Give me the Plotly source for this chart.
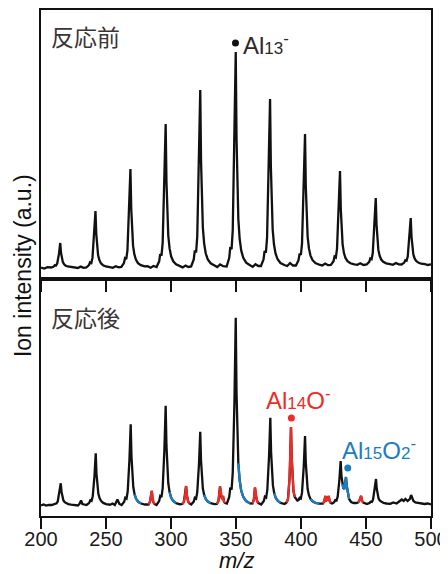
import plotly.graph_objects as go

# ---------------- data ----------------
# Before reaction (反応前): m/z and intensity (a.u.)
before_mz = [
    200, 202.5, 205,
    207.8, 209.8, 210.6, 211.6, 212.5, 213.8, 214.8, 215.4, 216.0, 216.8, 217.8, 219.0, 220.6, 222.8, 225.8,
    228.3, 230.5, 232.8,
    234.9, 236.9, 237.7, 238.7, 239.6, 240.9, 241.9, 242.5, 243.1, 243.9, 244.9, 246.1, 247.7, 249.9, 252.9,
    255.2, 257.5, 259.6,
    261.8, 263.8, 264.6, 265.6, 266.5, 267.8, 268.8, 269.4, 270.0, 270.8, 271.8, 273.0, 274.6, 276.8, 279.8,
    282.0, 284.3, 286.5,
    288.9, 290.9, 291.7, 292.7, 293.6, 294.9, 295.9, 296.5, 297.1, 297.9, 298.9, 300.1, 301.7, 303.9, 306.9,
    309.0, 311.2, 313.3,
    315.5, 317.5, 318.3, 319.3, 320.2, 321.5, 322.5, 323.1, 323.7, 324.5, 325.5, 326.7, 328.3, 330.5, 333.5,
    335.6, 337.8, 340.2,
    342.8, 344.8, 345.6, 346.6, 347.5, 348.8, 349.8, 350.4, 351.0, 351.8, 352.8, 354.0, 355.6, 357.8, 360.8,
    362.9, 365.0, 367.2,
    369.2, 371.2, 372.0, 373.0, 373.9, 375.2, 376.2, 376.8, 377.4, 378.2, 379.2, 380.4, 382.0, 384.2, 387.2,
    389.4, 391.6, 393.8,
    396.1, 398.1, 398.9, 399.9, 400.8, 402.1, 403.1, 403.7, 404.3, 405.1, 406.1, 407.3, 408.9, 411.1, 414.1,
    416.3, 418.6, 420.8,
    423.0, 425.0, 425.8, 426.8, 427.7, 429.0, 430.0, 430.6, 431.2, 432.0, 433.0, 434.2, 435.8, 438.0, 441.0,
    443.3, 445.6, 448.0,
    450.5, 452.5, 453.3, 454.3, 455.2, 456.5, 457.5, 458.1, 458.7, 459.5, 460.5, 461.7, 463.3, 465.5, 468.5,
    470.7, 473.0, 475.2,
    477.4, 479.4, 480.2, 481.2, 482.1, 483.4, 484.4, 485.0, 485.6, 486.4, 487.4, 488.6, 490.2, 492.4, 495.4,
    497.5, 500,
]
before_int = [
    11.5, 10.5, 11.8,
    11.5, 12.5, 13.7, 13.5, 15.7, 25, 36, 26.2, 20.3, 16.9, 14.7, 13.3, 12.5, 11.9, 11.7,
    11, 12.4, 11.1,
    11.5, 13.8, 16.6, 16, 21.1, 42.6, 68, 45.4, 31.8, 23.9, 18.9, 15.7, 13.8, 12.5, 11.8,
    11.2, 12.8, 11.6,
    12, 15.9, 20.8, 19.8, 28.7, 65.9, 110, 70.8, 47.3, 33.6, 24.7, 19.4, 15.9, 13.8, 12.6,
    12.8, 11.3, 13,
    12, 17.7, 24.9, 23.4, 36.3, 90.7, 155, 97.8, 63.5, 43.5, 30.6, 22.7, 17.7, 14.6, 12.9,
    11.6, 13.5, 12,
    12.5, 19.6, 28.4, 26.6, 42.5, 109.6, 189, 118.4, 76, 51.3, 35.4, 25.7, 19.6, 15.7, 13.6,
    12, 14.5, 12.8,
    12.5, 21.1, 31.8, 29.7, 49, 130.5, 227, 141.2, 89.7, 59.7, 40.4, 28.6, 21.1, 16.4, 13.8,
    12.2, 14.8, 13,
    13, 19.7, 28, 26.4, 41.4, 104.9, 180, 113.2, 73.1, 49.7, 34.7, 25.5, 19.7, 16, 14,
    13, 16, 13.5,
    13.5, 18.8, 25.3, 24, 35.9, 85.8, 145, 92.4, 60.8, 42.4, 30.6, 23.4, 18.8, 15.9, 14.3,
    13.5, 15.5, 13.8,
    14, 17.8, 22.5, 21.5, 30, 65.7, 108, 70.4, 47.8, 34.7, 26.2, 21, 17.8, 15.7, 14.6,
    14.2, 15.8, 14,
    14.5, 17.2, 20.5, 19.8, 25.8, 51.1, 81, 54.4, 38.4, 29.1, 23.2, 19.5, 17.2, 15.7, 14.9,
    14.2, 16, 14.6,
    14.5, 16.4, 18.7, 18.2, 22.4, 40.1, 61, 42.4, 31.2, 24.7, 20.6, 18, 16.4, 15.3, 14.8,
    14, 14.6,
]

# After reaction (反応後): m/z and intensity (a.u.)
after_mz = [
    200, 202, 204, 206,
    208.2, 210.2, 211.0, 212.0, 212.9, 214.2, 215.2, 215.8, 216.4, 217.2, 218.2, 219.4, 221.0, 223.2, 226.2,
    228.5, 229.8, 230.8, 231.8, 233.3,
    235.1, 237.1, 237.9, 238.9, 239.8, 241.1, 242.1, 242.7, 243.3, 244.1, 245.1, 246.3, 247.9, 250.1, 253.1,
    255.0, 256.8, 258.8, 260.3,
    262.0, 264.0, 264.8, 265.8, 266.7, 268.0, 269.0, 269.6, 270.2, 271.0, 272.0, 273.2, 274.8, 277.0, 280.0,
    282.7, 283.9, 284.7, 285.2, 285.8, 286.5, 287.5,
    288.9, 290.9, 291.7, 292.7, 293.6, 294.9, 295.9, 296.5, 297.1, 297.9, 298.9, 300.1, 301.7, 303.9, 306.9,
    308.6, 309.9, 310.9, 311.6, 312.3, 313.2, 314.2,
    315.5, 317.5, 318.3, 319.3, 320.2, 321.5, 322.5, 323.1, 323.7, 324.5, 325.5, 326.7, 328.3, 330.5, 333.5,
    335.3, 336.5, 337.7, 338.5, 339.3, 340.0, 340.8, 341.6,
    343.0, 344.8, 345.6, 346.6, 347.5, 348.8, 349.8, 350.4, 351.0, 351.8, 352.8, 354.0, 355.6, 357.8, 360.8,
    362.6, 363.7, 364.6, 365.3, 366.2, 367.2,
    369.4, 371.4, 372.2, 373.2, 374.1, 375.4, 376.4, 377.0, 377.6, 378.4, 379.4, 380.6, 382.2, 384.4, 387.4,
    388.9, 390.0, 391.2, 391.8, 392.3, 392.8, 393.4, 394.2, 395.2,
    396.2, 397.2, 398.1, 398.9, 399.9, 400.8, 402.1, 403.1, 403.7, 404.3, 405.1, 406.1, 407.3, 408.9, 411.1, 414.1,
    416.8, 418.0, 418.7, 419.5, 420.4, 421.3, 422.0, 423.0,
    424.0, 425.5, 426.3, 427.3, 428.2, 429.5, 430.5, 431.1, 431.7, 432.5, 433.3, 434.0, 434.6, 435.2, 436.0, 437.0, 438.5, 440.5, 442.5,
    443.8, 445.0, 446.2, 447.0, 447.9,
    450.7, 452.7, 453.5, 454.5, 455.4, 456.7, 457.7, 458.3, 458.9, 459.7, 460.7, 461.9, 463.5, 465.7, 468.7,
    471.0, 473.5, 475.5, 477.5, 479.0, 480.3,
    482.0, 483.7, 484.7, 485.5, 486.5, 488.0, 490.0, 492.5, 495.0, 497.5, 500,
]
after_int = [
    10.5, 11.5, 10.5, 11.2,
    11, 11.9, 13, 12.7, 14.7, 22.9, 32.7, 24, 18.8, 15.8, 13.8, 12.6, 11.9, 11.4, 11.1,
    10.5, 12.5, 15.5, 12, 11.2,
    11, 13.1, 15.7, 15.1, 19.8, 39.4, 62.7, 42, 29.6, 22.4, 17.7, 14.9, 13.1, 11.9, 11.3,
    12.5, 11, 16.5, 12,
    11, 14.2, 18.3, 17.5, 24.7, 55.4, 91.7, 59.4, 40.1, 28.8, 21.5, 17, 14.2, 12.5, 11.5,
    11.5, 14.5, 21.5, 25, 18, 13.5, 12,
    11, 15, 19.9, 18.9, 27.9, 65.6, 110.3, 70.6, 46.7, 32.8, 23.9, 18.5, 15, 12.8, 11.6,
    12, 14, 21, 30, 20, 14.5, 12.5,
    11.5, 14.4, 18.1, 17.3, 23.9, 51.5, 84.3, 55.2, 37.7, 27.5, 21, 17, 14.4, 12.8, 11.9,
    12, 15, 29.5, 20, 17, 20, 14, 13,
    12.5, 19, 28.3, 26.4, 43.3, 114.2, 198.3, 123.6, 78.7, 52.6, 35.8, 25.5, 19, 14.9, 12.6,
    12.5, 16, 28.5, 20, 15, 13,
    11.5, 15, 19.3, 18.4, 26.3, 59.2, 98.3, 63.6, 42.7, 30.6, 22.8, 18, 15, 13.1, 12,
    13.5, 17, 38, 62, 89, 60, 38, 25, 19,
    17, 15.5, 16, 18.1, 17.4, 23.6, 49.4, 80, 52.8, 36.5, 27, 20.8, 17.1, 14.7, 13.2, 12.4,
    12.5, 15, 20, 15.5, 16.5, 20, 15, 13,
    12.5, 13.7, 15.9, 15.4, 19.3, 35.7, 55, 40, 32, 28, 27, 33, 39, 30, 22, 17, 14, 13, 13,
    13.5, 15.5, 20, 15, 13.5,
    12, 13, 14.3, 14, 16.3, 25.8, 37, 27, 21, 17.5, 15.3, 13.9, 13, 12.5, 12.2,
    13.5, 12.5, 14.5, 16.5, 15, 17,
    15, 17, 21, 17.5, 15, 13.5, 13, 12.5, 12, 12.5, 11.5,
]

# m/z windows highlighted in the after-reaction spectrum
red_ranges = [(282.6, 287.6), (308.5, 314.3), (335.2, 341.7), (362.5, 367.3),
              (388.8, 395.3), (416.7, 423.1), (443.7, 448.0)]          # Al_nO-
blue_ranges = [(271.9, 277.1), (298.8, 304.0), (325.4, 330.6), (351.7, 360.9),
               (379.3, 384.5), (407.2, 414.2), (431.6, 437.1)]         # Al_nO2-

# labelled peaks: text, m/z, apex intensity
top_label_text = ["Al<span style='font-size:17px'>13</span><sup>-</sup>"]
top_label_mz = [349.6]
top_label_int = [227]
bot_label_text = ["Al<span style='font-size:17px'>14</span>O<sup>-</sup>",
                  "Al<span style='font-size:17px'>15</span>O<span style='font-size:17px'>2</span><sup>-</sup>"]
bot_label_mz = [392.6, 436.0]
bot_label_int = [89, 39]

tick_vals = [200, 250, 300, 350, 400, 450, 500]
panel_titles = ["反応前", "反応後"]

assert len(before_mz) == len(before_int)
assert len(after_mz) == len(after_int)

# ---------------- styles ----------------
BLACK = "#111111"
RED = "#ee2b24"
BLUE = "#1c7cc2"
TXT = "#3b3535"
FONT = "Liberation Sans, Arial, Noto Sans CJK JP, sans-serif"
DOT_GAP = 9
LW = 2.3
PAGE_PAD = 8  # the page body adds an 8px margin around the figure

fig = go.Figure()

fig.add_trace(go.Scatter(x=before_mz, y=before_int, mode="lines",
                         line=dict(color=BLACK, width=LW), xaxis="x", yaxis="y",
                         showlegend=False, hoverinfo="skip"))
fig.add_trace(go.Scatter(x=after_mz, y=after_int, mode="lines",
                         line=dict(color=BLACK, width=LW), xaxis="x2", yaxis="y2",
                         showlegend=False, hoverinfo="skip"))


def segments(ranges):
    xs, ys = [], []
    for lo, hi in ranges:
        for m, v in zip(after_mz, after_int):
            if lo <= m <= hi:
                xs.append(m)
                ys.append(v)
        xs.append(None)
        ys.append(None)
    return xs, ys


for rng, col in ((blue_ranges, BLUE), (red_ranges, RED)):
    sx, sy = segments(rng)
    fig.add_trace(go.Scatter(x=sx, y=sy, mode="lines", line=dict(color=col, width=LW),
                             xaxis="x2", yaxis="y2", showlegend=False, hoverinfo="skip",
                             connectgaps=False))

# label dots
fig.add_trace(go.Scatter(x=top_label_mz, y=[v + DOT_GAP for v in top_label_int], mode="markers",
                         marker=dict(color=BLACK, size=7), xaxis="x", yaxis="y",
                         showlegend=False, hoverinfo="skip"))
fig.add_trace(go.Scatter(x=bot_label_mz, y=[v + DOT_GAP for v in bot_label_int], mode="markers",
                         marker=dict(color=[RED, BLUE], size=7), xaxis="x2", yaxis="y2",
                         showlegend=False, hoverinfo="skip"))

annotations = []
annotations.append(dict(x=top_label_mz[0], y=top_label_int[0] + DOT_GAP, xref="x", yref="y",
                        text=top_label_text[0], showarrow=False, xanchor="left", yanchor="middle",
                        xshift=6, yshift=-1, font=dict(size=24, color="#2e2828", family=FONT)))
annotations.append(dict(x=bot_label_mz[0], y=bot_label_int[0] + DOT_GAP, xref="x2", yref="y2",
                        text=bot_label_text[0], showarrow=False, xanchor="left", yanchor="middle",
                        xshift=-27, yshift=19, font=dict(size=24, color=RED, family=FONT)))
annotations.append(dict(x=bot_label_mz[1], y=bot_label_int[1] + DOT_GAP, xref="x2", yref="y2",
                        text=bot_label_text[1], showarrow=False, xanchor="left", yanchor="middle",
                        xshift=-8, yshift=19, font=dict(size=24, color=BLUE, family=FONT)))
annotations.append(dict(x=0.02, y=0.896, xref="x domain", yref="y domain", text=panel_titles[0],
                        showarrow=False, xanchor="left", yanchor="middle",
                        font=dict(size=23, color=TXT, family=FONT)))
annotations.append(dict(x=0.02, y=0.833, xref="x2 domain", yref="y2 domain", text=panel_titles[1],
                        showarrow=False, xanchor="left", yanchor="middle",
                        font=dict(size=23, color=TXT, family=FONT)))
annotations.append(dict(x=-0.046, y=0.494, xref="paper", yref="paper", text="Ion intensity (a.u.)",
                        textangle=-90, showarrow=False, xanchor="center", yanchor="middle",
                        font=dict(size=23, color=BLACK, family=FONT)))
annotations.append(dict(x=0.5, y=0, xref="paper", yref="paper", text="<i>m/z</i>",
                        showarrow=False, xanchor="center", yanchor="bottom", yshift=-58,
                        borderpad=0, font=dict(size=22, color=BLACK, family=FONT)))

split = 237 / 506
axis_common = dict(showgrid=False, zeroline=False, showline=True, linecolor=BLACK,
                   linewidth=2, mirror=True, automargin=False)

fig.update_layout(
    width=448 - PAGE_PAD, height=574 - PAGE_PAD,
    margin=dict(l=41 - PAGE_PAD, r=17, t=10 - PAGE_PAD, b=58, autoexpand=False),
    paper_bgcolor="white", plot_bgcolor="white",
    font=dict(family=FONT, color=BLACK),
    showlegend=False,
    annotations=annotations,
    xaxis=dict(domain=[0, 1], range=[200, 500], anchor="y", tickvals=tick_vals,
               ticks="outside", ticklen=11, tickwidth=2, tickcolor=BLACK,
               showticklabels=False, **axis_common),
    yaxis=dict(domain=[split, 1], range=[0, 269], anchor="x", showticklabels=False,
               ticks="", **axis_common),
    xaxis2=dict(domain=[0, 1], range=[200, 500], anchor="y2", tickvals=tick_vals,
                ticks="outside", ticklen=11, tickwidth=2, tickcolor=BLACK,
                tickfont=dict(size=20, color="#1a1a1a", family=FONT), ticklabelstandoff=-7,
                ticklabeloverflow="allow", **axis_common),
    yaxis2=dict(domain=[0, split], range=[0, 237], anchor="x2", showticklabels=False,
                ticks="", **axis_common),
)

fig.write_html("out.html")
